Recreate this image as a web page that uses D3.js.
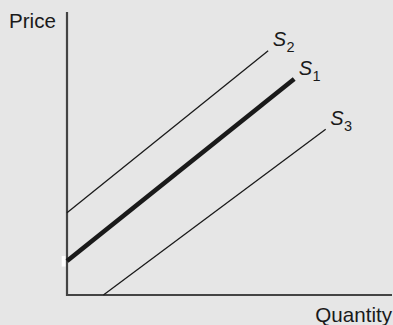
<!DOCTYPE html>
<html>
<head>
<meta charset="utf-8">
<script src="https://cdn.jsdelivr.net/npm/d3@7"></script>
<style>
  html, body { margin: 0; padding: 0; background: #e6e6e6; }
  svg { display: block; }
  text { font-family: "Liberation Sans", Arial, Helvetica, sans-serif; fill: #1a1a1a; }
</style>
</head>
<body>
<svg id="chart" width="393" height="325"></svg>
<script>
// Curve names and subscripts
const curveNames = ["S2", "S1", "S3"];
const curveSubs = ["2", "1", "3"];
// Endpoints in data units (quantity 0-100, price 0-100)
const startQ = [0, 0, 11.2];
const startP = [29.1, 12.0, 0];
const endQ = [61.9, 69.9, 79.6];
const endP = [86.3, 76.3, 58.6];
const axisLabels = ["Price", "Quantity"];

const W = 393, H = 325;
const margin = { left: 67, top: 12, right: 1, bottom: 30 };
const svg = d3.select("#chart");
svg.append("rect").attr("width", W).attr("height", H).attr("fill", "#e6e6e6");

const x = d3.scaleLinear().domain([0, 100]).range([margin.left, W - margin.right]);
const y = d3.scaleLinear().domain([0, 100]).range([H - margin.bottom, margin.top]);

const widths = { S1: 4.6, S2: 1.3, S3: 1.3 };

// small white mark left of the axis (as in reference)
svg.append("rect").attr("x", x(0) - 5.3).attr("y", y(12.0) - 5).attr("width", 4).attr("height", 10.5).attr("fill", "#ffffff");

// axes
svg.append("line")
  .attr("x1", x(0)).attr("x2", x(0))
  .attr("y1", y(100)).attr("y2", y(0) + 1)
  .attr("stroke", "#444").attr("stroke-width", 2.2);
svg.append("line")
  .attr("x1", x(0) - 1).attr("x2", x(100))
  .attr("y1", y(0)).attr("y2", y(0))
  .attr("stroke", "#444").attr("stroke-width", 2.2);

const curves = curveNames.map((n, i) => ({
  name: n, sub: curveSubs[i],
  pts: [[startQ[i], startP[i]], [endQ[i], endP[i]]]
}));

const lineGen = d3.line().x(d => x(d[0])).y(d => y(d[1]));

svg.selectAll("path.curve").data(curves).enter().append("path")
  .attr("class", "curve")
  .attr("d", d => lineGen(d.pts))
  .attr("fill", "none")
  .attr("stroke", "#1a1a1a")
  .attr("stroke-width", d => widths[d.name]);

const lbl = svg.selectAll("text.lbl").data(curves).enter().append("text")
  .attr("class", "lbl")
  .attr("x", d => x(d.pts[1][0]) + 4.5)
  .attr("y", d => y(d.pts[1][1]) - 4.3)
  .style("font-size", "20px");
lbl.append("tspan").attr("font-style", "italic").text("S");
lbl.append("tspan").attr("dx", 0.5).attr("dy", 6).style("font-size", "14.5px").text(d => d.sub);

svg.append("text").attr("x", 9).attr("y", 28.3).style("font-size", "20.6px").text(axisLabels[0]);
svg.append("text").attr("x", 392).attr("y", 321.5).attr("text-anchor", "end").style("font-size", "20.6px").text(axisLabels[1]);
</script>
</body>
</html>
